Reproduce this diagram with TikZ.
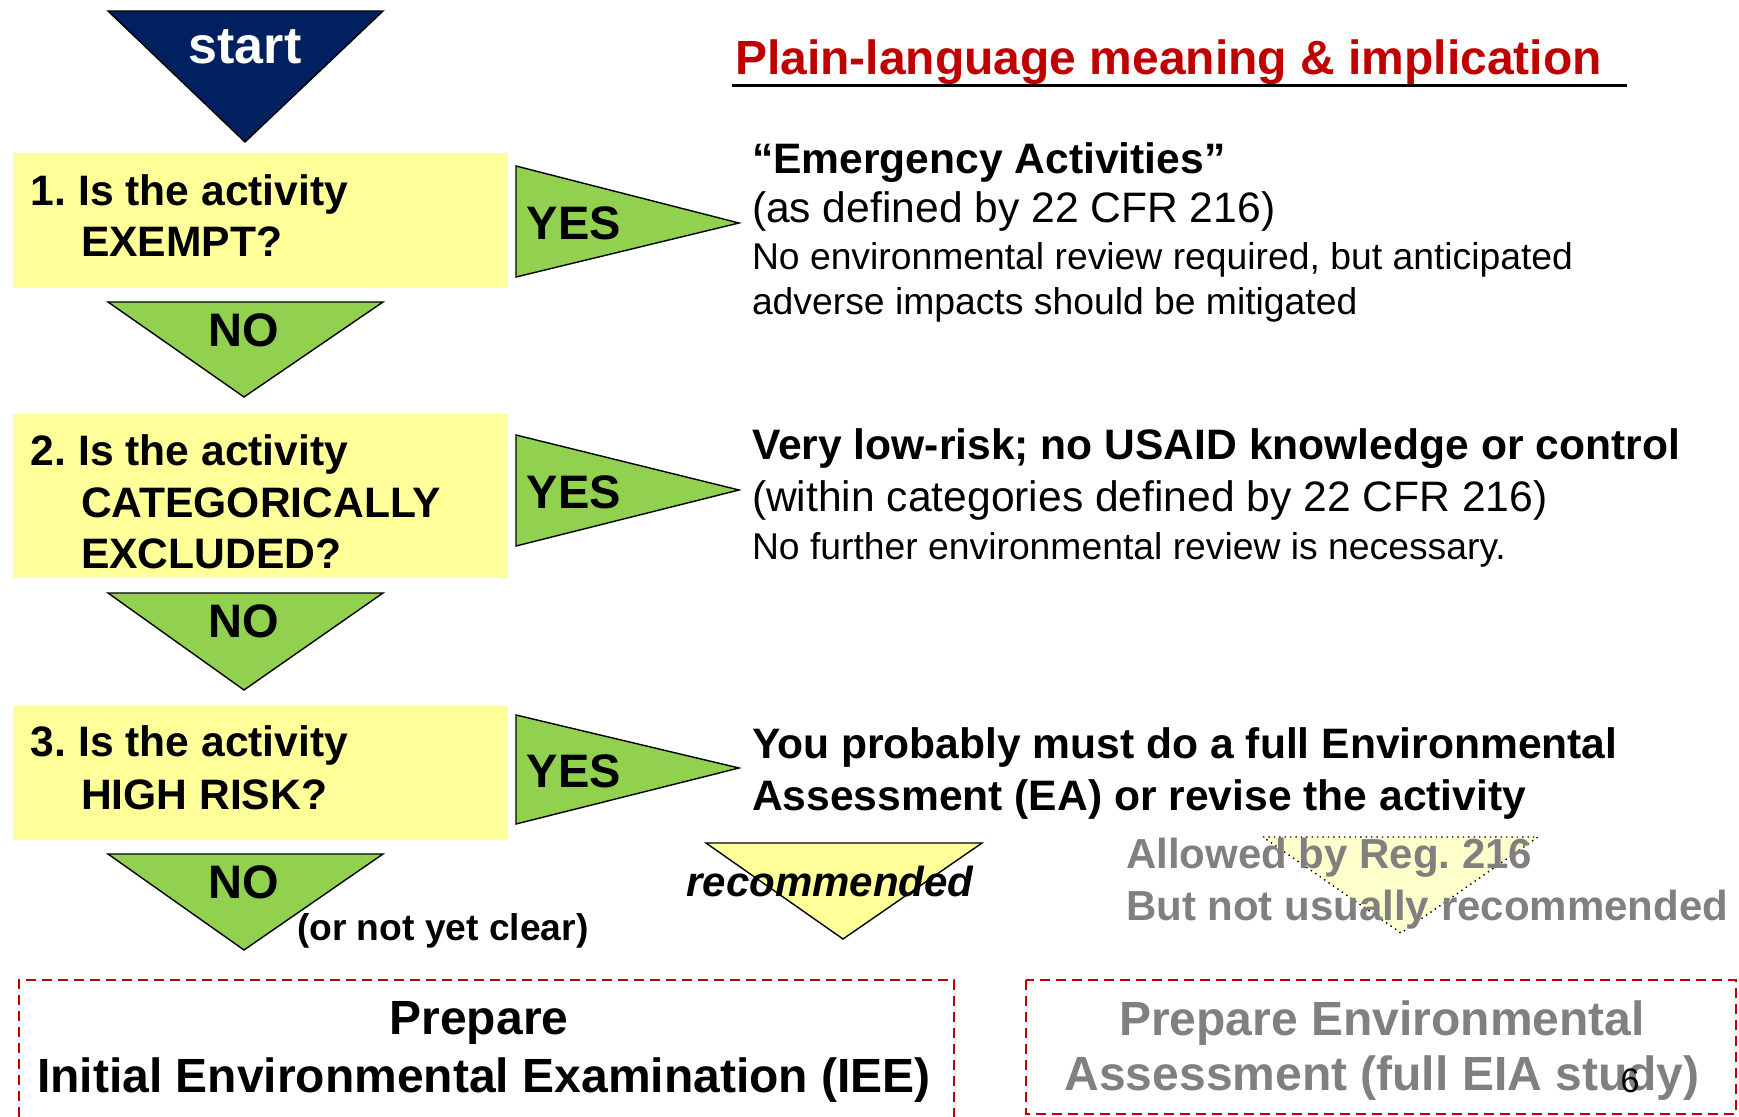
\documentclass[tikz,border=0pt]{standalone}
\usepackage{fontspec}
\setmainfont{Liberation Sans}
\frenchspacing
\definecolor{navy}{RGB}{0,32,96}
\definecolor{qyellow}{RGB}{255,255,153}
\definecolor{pyellow}{RGB}{255,255,204}
\definecolor{agreen}{RGB}{146,208,80}
\definecolor{hred}{RGB}{192,0,0}
\definecolor{dgray}{RGB}{128,128,128}
\begin{document}
\frenchspacing
\begin{tikzpicture}[x=0.5pt,y=-0.5pt,
  every node/.style={inner sep=0pt,outer sep=0pt},
  tri/.style={draw=black,line width=0.7pt,line join=miter},
  qbox/.style={fill=qyellow,draw=none},
  qtext/.style={anchor=base west,font=\fontsize{21.3}{25}\selectfont\bfseries},
  bigword/.style={font=\fontsize{23.5}{27}\selectfont\bfseries},
  rbold/.style={anchor=base west,font=\fontsize{21.3}{25}\selectfont\bfseries},
  rreg/.style={anchor=base west,font=\fontsize{21.3}{25}\selectfont},
  rsmall/.style={anchor=base west,font=\fontsize{18.65}{22}\selectfont},
  greytext/.style={anchor=base west,text=dgray,font=\fontsize{21}{25}\selectfont\bfseries},
  dashbox/.style={draw=hred,line width=1.4pt,dash pattern=on 5pt off 3pt},
  ptext/.style={font=\fontsize{24}{28}\selectfont\bfseries}]
\useasboundingbox (0,0) rectangle (1739,1117);

% start
\path[fill=navy,tri] (108,11) -- (383,11) -- (245,142) -- cycle;
\node[text=white,font=\fontsize{26}{30}\selectfont\bfseries] (start) at (245,47) {start};

% heading
\node[anchor=base west,text=hred,font=\fontsize{24}{28}\selectfont\bfseries] (head) at (735,75) {Plain-language meaning \& implication};
\draw[line width=1.5pt] (732,86) -- (1627,86);

% question boxes
\path[qbox] (13,153) rectangle (508,288);
\node[qtext] (q1a) at (31,206) {1. Is the activity};
\node[qtext] (q1b) at (81,257) {EXEMPT?};

\path[qbox] (13,414) rectangle (508,578);
\node[qtext] (q2a) at (31,466) {2. Is the activity};
\node[qtext] (q2b) at (81,517) {CATEGORICALLY};
\node[qtext] (q2c) at (81,568) {EXCLUDED?};

\path[qbox] (13,706) rectangle (508,840);
\node[qtext] (q3a) at (31,756) {3. Is the activity};
\node[qtext] (q3b) at (81,809) {HIGH RISK?};

% YES arrows
\path[fill=agreen,tri] (516,166) -- (516,277) -- (739,223) -- cycle;
\node[bigword] (yes1) at (574,223) {YES};
\path[fill=agreen,tri] (516,435) -- (516,546) -- (739,490) -- cycle;
\node[bigword] (yes2) at (574,492) {YES};
\path[fill=agreen,tri] (516,715) -- (516,824) -- (739,768) -- cycle;
\node[bigword] (yes3) at (574,771) {YES};

% NO arrows
\path[fill=agreen,tri] (108,302) -- (383,302) -- (244,397) -- cycle;
\node[bigword] (no1) at (244,330) {NO};
\path[fill=agreen,tri] (108,593) -- (383,593) -- (244,690) -- cycle;
\node[bigword] (no2) at (244,621) {NO};
\path[fill=agreen,tri] (108,854) -- (383,854) -- (244,950) -- cycle;
\node[bigword] (no3) at (244,882) {NO};
\node[anchor=base west,font=\fontsize{18.6}{22}\selectfont\bfseries] (notclear) at (297,940) {(or not yet clear)};

% recommended arrow
\path[fill=qyellow,tri] (706,843) -- (982,843) -- (843,939) -- cycle;
\node[font=\fontsize{21}{25}\selectfont\bfseries\itshape] (rec) at (830,881) {recommended};

% right texts
\node[rbold] (e1) at (752,174) {“Emergency Activities”};
\node[rreg] (e2) at (752,223) {(as defined by 22 CFR 216)};
\node[rsmall] (e3) at (752,270) {No environmental review required, but anticipated};
\node[rsmall] (e4) at (752,315) {adverse impacts should be mitigated};

\node[rbold] (c1) at (752,459) {Very low-risk; no USAID knowledge or control};
\node[rreg] (c2) at (752,511) {(within categories defined by 22 CFR 216)};
\node[rsmall] (c3) at (752,559) {No further environmental review is necessary.};

\node[rbold] (h1) at (752,758) {You probably must do a full Environmental};
\node[rbold] (h2) at (752,810) {Assessment (EA) or revise the activity};

% allowed arrow
\path[fill=pyellow,draw=black,line width=0.7pt,dotted] (1263,837) -- (1538,837) -- (1401,933) -- cycle;
\node[greytext] (al1) at (1126,868) {Allowed by Reg. 216};
\node[greytext] (al2) at (1126,920) {But not usually recommended};

% outcome boxes
\draw[dashbox] (19,1117) -- (19,980) -- (954,980) -- (954,1117);
\node[ptext] (iee1) at (479,1023) {Prepare};
\node[ptext] (iee2) at (484,1080) {Initial Environmental Examination (IEE)};

\draw[dashbox] (1026,980) rectangle (1736,1114);
\node[ptext,text=dgray] (ea1) at (1382,1023) {Prepare Environmental};
\node[ptext,text=dgray] (ea2) at (1382,1078) {Assessment (full EIA study)};
\node[font=\fontsize{17}{20}\selectfont] (pnum) at (1630,1081) {6};
\end{tikzpicture}
\end{document}
